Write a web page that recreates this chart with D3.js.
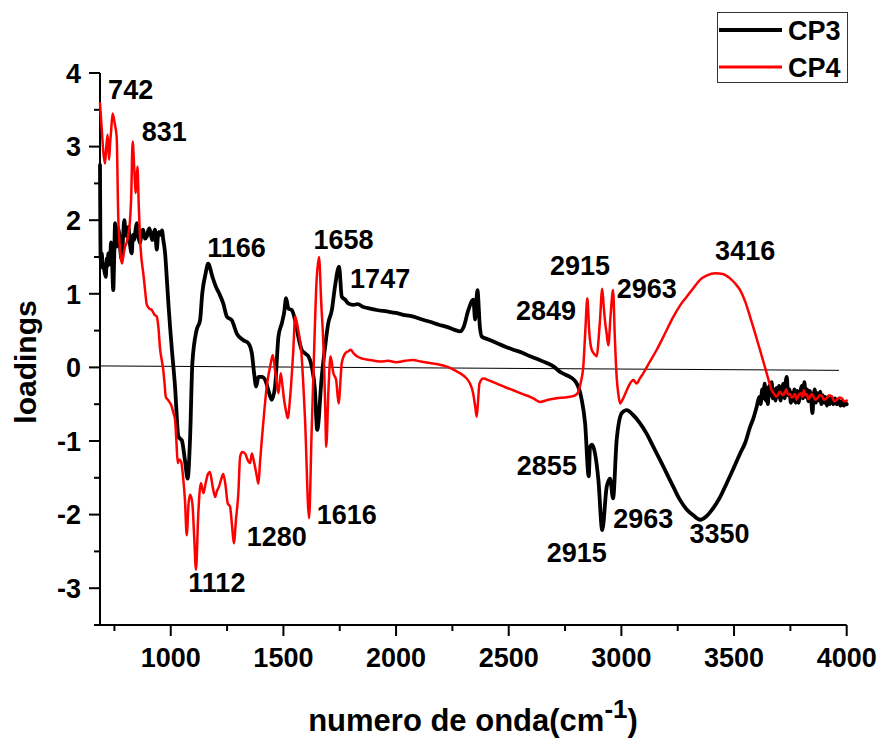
<!DOCTYPE html>
<html>
<head>
<meta charset="utf-8">
<script src="https://cdn.jsdelivr.net/npm/d3@7"></script>
<style>
  html, body { margin: 0; padding: 0; background: #fff; }
  svg text { font-family: "Liberation Sans", Arial, sans-serif; font-weight: bold; fill: #000; }
</style>
</head>
<body>
<svg id="chart" width="883" height="740"></svg>
<script>
// Loading spectra: [wavenumber (cm-1), loading]
const cp3 = [
  [686,2.75],[689,1.46],[694,1.55],[698,1.35],[701,1.41],[706,1.30],[712,1.23],[716,1.48],[720,1.38],
  [723,1.55],[727,1.40],[731,1.46],[735,1.70],[738,1.64],[741,1.30],[745,1.05],[749,1.50],[753,1.96],
  [757,1.70],[760,1.64],[765,1.90],[771,1.82],[776,1.60],[783,1.46],[788,1.75],[794,2.00],[799,1.85],
  [805,1.78],[812,1.91],[818,1.70],[827,1.55],[832,1.80],[838,1.73],[843,1.85],[849,1.96],[856,1.78],
  [864,1.69],[870,1.82],[878,1.87],[885,1.75],[894,1.78],[900,1.86],[905,1.89],[912,1.80],[918,1.73],
  [924,1.82],[930,1.87],[934,1.72],[938,1.60],[943,1.78],[948,1.84],[955,1.80],[961,1.86],[967,1.73],
  [975,1.55],[982,1.23],[990,0.85],[997,0.55],[1004,0.28],[1019,-0.26],[1034,-0.94],[1042,-0.97],
  [1049,-0.99],[1063,-1.26],[1075,-1.51],[1086,-0.94],[1096,0.06],[1115,0.51],[1130,0.64],[1140,1.01],
  [1155,1.28],[1166,1.41],[1185,1.23],[1200,1.10],[1214,1.01],[1233,0.87],[1249,0.69],[1271,0.64],
  [1293,0.46],[1322,0.37],[1344,0.33],[1360,0.19],[1370,-0.08],[1379,-0.26],[1389,-0.13],[1404,-0.13],
  [1419,-0.17],[1433,-0.31],[1448,-0.44],[1463,-0.26],[1478,0.42],[1493,0.60],[1503,0.74],[1512,0.94],
  [1522,0.80],[1537,0.78],[1552,0.64],[1566,0.42],[1581,0.24],[1596,0.19],[1611,0.15],[1626,0.01],
  [1640,-0.31],[1650,-0.85],[1670,-0.13],[1685,0.28],[1699,0.60],[1715,0.78],[1729,1.10],[1747,1.37],
  [1759,0.96],[1774,0.92],[1788,0.87],[1810,0.85],[1830,0.86],[1855,0.82],[1885,0.80],[1914,0.78],
  [1960,0.76],[2000,0.74],[2040,0.71],[2077,0.69],[2115,0.65],[2150,0.62],[2190,0.58],[2225,0.55],
  [2260,0.51],[2284,0.49],[2300,0.55],[2321,0.78],[2343,0.92],[2351,0.65],[2361,1.05],[2372,0.55],
  [2380,0.42],[2410,0.38],[2447,0.33],[2485,0.28],[2520,0.24],[2560,0.20],[2595,0.15],[2630,0.11],
  [2669,0.06],[2700,0.01],[2728,-0.06],[2752,-0.10],[2772,-0.13],[2790,-0.17],[2802,-0.22],[2815,-0.32],
  [2824,-0.44],[2839,-0.76],[2855,-1.48],[2861,-1.08],[2870,-1.05],[2883,-1.17],[2898,-1.53],[2915,-2.21],
  [2935,-1.62],[2950,-1.51],[2963,-1.78],[2979,-0.99],[3002,-0.62],[3024,-0.58],[3050,-0.64],[3083,-0.76],
  [3112,-0.90],[3142,-1.08],[3172,-1.26],[3201,-1.44],[3230,-1.62],[3260,-1.80],[3290,-1.93],[3319,-2.01],
  [3350,-2.07],[3375,-2.03],[3401,-1.94],[3435,-1.78],[3468,-1.57],[3498,-1.37],[3527,-1.17],[3550,-1.02],
  [3571,-0.81],[3585,-0.70],[3601,-0.53],[3612,-0.40],[3618,-0.50],[3625,-0.30],[3630,-0.42],[3636,-0.22],
  [3641,-0.45],[3645,-0.28],[3650,-0.50],[3656,-0.25],[3661,-0.38],[3667,-0.20],[3672,-0.42],[3678,-0.30],
  [3684,-0.45],[3689,-0.28],[3695,-0.40],[3700,-0.25],[3706,-0.45],[3712,-0.30],[3719,-0.22],[3725,-0.42],
  [3730,-0.18],[3734,-0.13],[3740,-0.38],[3746,-0.30],[3752,-0.48],[3756,-0.35],[3762,-0.45],[3768,-0.30],
  [3774,-0.48],[3780,-0.32],[3787,-0.48],[3793,-0.36],[3800,-0.25],[3806,-0.42],[3812,-0.20],[3818,-0.40],
  [3824,-0.30],[3830,-0.46],[3836,-0.32],[3842,-0.44],[3848,-0.62],[3852,-0.45],[3858,-0.30],[3864,-0.48],
  [3870,-0.35],[3876,-0.45],[3882,-0.33],[3888,-0.50],[3894,-0.38],[3900,-0.48],[3906,-0.40],[3912,-0.52],
  [3918,-0.42],[3925,-0.50],[3932,-0.40],[3940,-0.50],[3948,-0.42],[3956,-0.50],[3964,-0.44],[3972,-0.52],
  [3980,-0.46],[3988,-0.52],[3995,-0.48],[4000,-0.50]
];

const cp4 = [
  [686,3.59],[694,3.23],[700,2.95],[708,2.77],[714,3.00],[720,3.16],[726,2.82],[731,3.05],[735,3.20],
  [742,3.45],[752,3.30],[760,3.13],[767,2.05],[775,1.60],[783,1.41],[790,1.52],[797,1.64],[805,1.70],
  [812,1.82],[818,1.95],[824,2.27],[831,3.07],[838,2.70],[845,2.37],[852,2.73],[858,2.20],[864,1.73],
  [871,1.45],[878,1.28],[886,1.05],[894,0.85],[905,0.80],[916,0.78],[927,0.72],[938,0.69],[945,0.55],
  [953,0.24],[960,0.10],[967,-0.04],[972,-0.20],[978,-0.40],[990,-0.45],[1004,-0.53],[1012,-0.62],
  [1019,-0.71],[1025,-1.00],[1031,-1.30],[1038,-1.25],[1046,-1.28],[1056,-1.53],[1063,-1.80],[1071,-2.28],
  [1079,-1.85],[1086,-1.73],[1096,-1.85],[1104,-2.30],[1112,-2.75],[1122,-2.00],[1134,-1.57],[1145,-1.71],
  [1155,-1.57],[1165,-1.45],[1174,-1.42],[1185,-1.60],[1197,-1.76],[1205,-1.68],[1214,-1.62],[1224,-1.52],
  [1233,-1.45],[1243,-1.60],[1253,-1.85],[1263,-1.89],[1272,-2.15],[1280,-2.39],[1290,-2.05],[1300,-1.71],
  [1308,-1.21],[1318,-1.15],[1330,-1.17],[1340,-1.25],[1352,-1.30],[1360,-1.17],[1367,-1.25],[1374,-1.35],
  [1382,-1.48],[1389,-1.58],[1396,-1.30],[1404,-0.99],[1415,-0.60],[1426,-0.26],[1434,-0.10],[1441,0.01],
  [1453,0.17],[1463,-0.04],[1470,-0.20],[1478,-0.35],[1488,-0.08],[1496,-0.25],[1503,-0.44],[1512,-0.60],
  [1519,-0.69],[1530,-0.40],[1544,0.24],[1552,0.69],[1566,0.50],[1580,0.19],[1596,-0.71],[1614,-2.05],
  [1625,-0.90],[1636,0.19],[1646,1.10],[1658,1.50],[1668,0.87],[1679,0.19],[1686,-0.60],[1690,-1.08],
  [1700,-0.30],[1709,0.15],[1722,-0.08],[1734,-0.17],[1745,-0.49],[1759,0.06],[1774,0.19],[1788,0.22],
  [1799,0.24],[1812,0.19],[1826,0.15],[1850,0.12],[1885,0.10],[1929,0.08],[1965,0.09],[2000,0.07],
  [2040,0.09],[2075,0.10],[2110,0.08],[2150,0.06],[2190,0.04],[2225,0.01],[2255,-0.03],[2284,-0.08],
  [2310,-0.14],[2328,-0.22],[2342,-0.35],[2351,-0.53],[2358,-0.67],[2364,-0.45],[2370,-0.22],[2387,-0.15],
  [2415,-0.18],[2447,-0.22],[2485,-0.27],[2520,-0.31],[2560,-0.36],[2595,-0.40],[2620,-0.44],[2639,-0.47],
  [2675,-0.44],[2713,-0.42],[2745,-0.41],[2772,-0.40],[2795,-0.38],[2809,-0.33],[2820,-0.20],[2831,0.01],
  [2840,0.50],[2849,0.94],[2857,0.50],[2868,0.24],[2880,0.18],[2891,0.15],[2898,0.35],[2905,0.64],
  [2915,1.07],[2921,0.85],[2927,0.64],[2935,0.45],[2942,0.30],[2952,0.70],[2963,1.05],[2971,0.40],
  [2979,-0.13],[2986,-0.35],[2994,-0.49],[3008,-0.42],[3024,-0.31],[3038,-0.22],[3053,-0.17],[3068,-0.22],
  [3082,-0.15],[3097,-0.08],[3125,0.07],[3157,0.24],[3195,0.47],[3231,0.69],[3260,0.84],[3290,0.96],
  [3320,1.08],[3349,1.19],[3380,1.25],[3416,1.28],[3450,1.27],[3482,1.21],[3505,1.14],[3527,1.05],
  [3550,0.89],[3571,0.69],[3593,0.47],[3615,0.24],[3630,0.08],[3645,-0.08],[3656,-0.20],[3667,-0.31],
  [3678,-0.36],[3689,-0.40],[3703,-0.33],[3717,-0.38],[3725,-0.34],[3732,-0.30],[3740,-0.37],[3748,-0.36],
  [3755,-0.41],[3762,-0.40],[3770,-0.36],[3778,-0.44],[3786,-0.38],[3795,-0.35],[3803,-0.40],[3810,-0.31],
  [3816,-0.38],[3823,-0.36],[3830,-0.43],[3838,-0.40],[3844,-0.36],[3850,-0.38],[3860,-0.44],[3870,-0.42],
  [3880,-0.38],[3890,-0.39],[3900,-0.44],[3911,-0.42],[3922,-0.38],[3935,-0.40],[3945,-0.46],[3956,-0.44],
  [3967,-0.41],[3978,-0.42],[3990,-0.46],[4000,-0.45]
];

// Reference line near zero
const zeroLine = [[686,0.02],[3966,-0.04]];

const xTicks = [1000,1500,2000,2500,3000,3500,4000];
const xMinor = [750,1250,1750,2250,2750,3250,3750];
const yTicks = [-3,-2,-1,0,1,2,3,4];
const yMinor = [-3.5,-2.5,-1.5,-0.5,0.5,1.5,2.5,3.5];

const series = [
  { name: "CP3", data: cp3, color: "#000000", width: 3.8 },
  { name: "CP4", data: cp4, color: "#ff0000", width: 2.5 }
];

// Peak labels: text anchored at (wavenumber, loading)
const peakLabels = [
  { text: "742",  x: 722,  y: 3.646 },
  { text: "831",  x: 871,  y: 3.076 },
  { text: "1166", x: 1162, y: 1.50 },
  { text: "1658", x: 1633, y: 1.609 },
  { text: "1747", x: 1796, y: 1.079 },
  { text: "2915", x: 2683, y: 1.255 },
  { text: "2849", x: 2532, y: 0.644 },
  { text: "2963", x: 2979, y: 0.943 },
  { text: "3416", x: 3416, y: 1.459 },
  { text: "2855", x: 2536, y: -1.462 },
  { text: "2963", x: 2964, y: -2.182 },
  { text: "2915", x: 2669, y: -2.644 },
  { text: "3350", x: 3302, y: -2.386 },
  { text: "1616", x: 1648, y: -2.128 },
  { text: "1280", x: 1337, y: -2.427 },
  { text: "1112", x: 1078, y: -3.052 }
];

const svg = d3.select("#chart");
const plotL = 100, plotR = 846.7, plotT = 73, plotB = 625;

const x = d3.scaleLinear().domain([686, 4000]).range([plotL, plotR]);
const y = d3.scaleLinear().domain([-3.5, 4]).range([plotB, plotT]);

// Axes
const xAxis = svg.append("g").attr("transform", `translate(0,${plotB})`);
xAxis.append("line").attr("x1", plotL - 6).attr("x2", plotR).attr("y1", 0).attr("y2", 0)
  .attr("stroke", "#000").attr("stroke-width", 2);
xAxis.selectAll(".maj").data(xTicks).join("line")
  .attr("x1", d => x(d)).attr("x2", d => x(d)).attr("y1", 0).attr("y2", 11)
  .attr("stroke", "#000").attr("stroke-width", 2);
xAxis.selectAll(".min").data(xMinor).join("line")
  .attr("x1", d => x(d)).attr("x2", d => x(d)).attr("y1", 0).attr("y2", 6)
  .attr("stroke", "#000").attr("stroke-width", 2);
xAxis.selectAll("text").data(xTicks).join("text")
  .attr("x", d => x(d)).attr("y", 42).attr("text-anchor", "middle")
  .attr("font-size", 27).text(d => d);

const yAxis = svg.append("g").attr("transform", `translate(${plotL},0)`);
yAxis.append("line").attr("x1", 0).attr("x2", 0).attr("y1", plotT).attr("y2", plotB)
  .attr("stroke", "#000").attr("stroke-width", 2);
yAxis.selectAll(".maj").data(yTicks).join("line")
  .attr("x1", -11).attr("x2", 0).attr("y1", d => y(d)).attr("y2", d => y(d))
  .attr("stroke", "#000").attr("stroke-width", 2);
yAxis.selectAll(".min").data(yMinor).join("line")
  .attr("x1", -6).attr("x2", 0).attr("y1", d => y(d)).attr("y2", d => y(d))
  .attr("stroke", "#000").attr("stroke-width", 2);
yAxis.selectAll("text").data(yTicks).join("text")
  .attr("x", -19).attr("y", d => y(d)).attr("dy", "0.36em").attr("text-anchor", "end")
  .attr("font-size", 27).text(d => d);

// Axis titles
svg.append("text").attr("transform", "translate(36,362) rotate(-90)")
  .attr("text-anchor", "middle").attr("font-size", 30).text("loadings");

const xt = svg.append("text").attr("x", 473).attr("y", 731).attr("text-anchor", "middle").attr("font-size", 31);
xt.append("tspan").text("numero de onda(cm");
xt.append("tspan").attr("font-size", 26).attr("dy", -13).text("-1");
xt.append("tspan").attr("dy", 13).text(")");

// Zero reference
const straight = d3.line().x(d => x(d[0])).y(d => y(d[1]));
svg.append("path").attr("d", straight(zeroLine)).attr("fill", "none")
  .attr("stroke", "#000").attr("stroke-width", 1);

// Spectra
const smooth = d3.line().curve(d3.curveMonotoneX).x(d => x(d[0])).y(d => y(d[1]));
svg.selectAll(".series").data(series).join("path")
  .attr("d", d => smooth(d.data)).attr("fill", "none")
  .attr("stroke", d => d.color).attr("stroke-width", d => d.width)
  .attr("stroke-linejoin", "round").attr("stroke-linecap", "round");

// Peak labels
svg.selectAll(".peak").data(peakLabels).join("text")
  .attr("x", d => x(d.x)).attr("y", d => y(d.y))
  .attr("font-size", 27).text(d => d.text);

// Legend
const lg = svg.append("g");
lg.append("rect").attr("x", 717.5).attr("y", 12.5).attr("width", 130).attr("height", 70)
  .attr("fill", "#fff").attr("stroke", "#333").attr("stroke-width", 1);
series.forEach((s, i) => {
  const ly = i === 0 ? 30 : 67;
  lg.append("line").attr("x1", 719).attr("x2", 782).attr("y1", ly).attr("y2", ly)
    .attr("stroke", s.color).attr("stroke-width", s.width + 0.3);
  lg.append("text").attr("x", 788).attr("y", ly + 10).attr("font-size", 27).text(s.name);
});
</script>
</body>
</html>
